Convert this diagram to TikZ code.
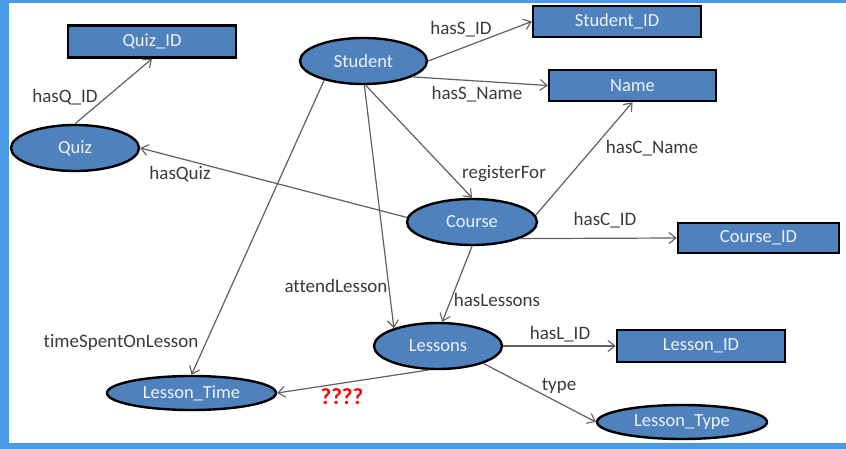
\documentclass[tikz,border=0pt]{standalone}
\usepackage{fontspec}
\setmainfont{Carlito}[Ligatures=NoCommon]
\usetikzlibrary{shapes.geometric,arrows.meta}
\definecolor{frameblue}{HTML}{4A9AE6}
\definecolor{nodeblue}{HTML}{4F81BD}
\definecolor{nodetext}{HTML}{EEF2F8}
\definecolor{labeltext}{HTML}{3A3A3A}
\definecolor{edgegray}{HTML}{606060}
\tikzset{
  ent/.style={draw=black, line width=2.4pt, fill=nodeblue, text=nodetext, inner sep=0pt,
    font=\fontsize{18.5}{20}\selectfont},
  rbox/.style={ent, rectangle},
  oval/.style={ent, ellipse},
  lbl/.style={text=labeltext, inner sep=0pt, font=\fontsize{19}{21}\selectfont},
  rel/.style={draw=edgegray, line width=1.2pt, -{Straight Barb[length=7pt,width=11pt,line width=1.1pt]}}
}
\begin{document}
\begin{tikzpicture}[x=1pt,y=-1pt]
\useasboundingbox (0,0) rectangle (846,449);
\fill[frameblue] (0,0) rectangle (846,449);
\fill[white] (9,3) rectangle (846,443);

% entities
\node[rbox, minimum width=168pt, minimum height=32pt] (quizid) at (152,41.5) {Quiz\_ID};
\node[rbox, minimum width=168pt, minimum height=31pt] (sid) at (617,21.5) {Student\_ID};
\node[rbox, minimum width=167pt, minimum height=31pt] (name) at (632.5,85.5) {Name};
\node[rbox, minimum width=161pt, minimum height=30pt] (cid) at (758.5,238) {Course\_ID};
\node[rbox, minimum width=168pt, minimum height=32pt] (lid) at (701,346) {Lesson\_ID};

\node[oval, minimum width=127pt, minimum height=46pt] (student) at (363.5,61) {Student};
\node[oval, minimum width=128pt, minimum height=46pt] (quiz) at (75,148) {Quiz};
\node[oval, minimum width=130pt, minimum height=46pt] (course) at (472,222) {Course};
\node[oval, minimum width=128pt, minimum height=46pt] (lessons) at (438,346) {Lessons};
\node[oval, minimum width=169pt, minimum height=34pt] (ltime) at (191.5,393) {Lesson\_Time};
\node[oval, minimum width=170pt, minimum height=34pt] (ltype) at (682,422) {Lesson\_Type};

% relations
\draw[rel] (quiz.north) -- (quizid.south);
\draw[rel] (student.east) -- (sid.west);
\draw[rel] (student.-18) -- (name.west);
\draw[rel] (student.-85) -- (course.north);
\draw[rel] (course.6) -- (name.south);
\draw[rel] (course.176) -- (quiz.east);
\draw[rel] (course.-19) -- (cid.west);
\draw[rel] (course.south) -- (lessons.80);
\draw[rel] (student.-88) -- (lessons.158);
\draw[rel] (student.-154) -- (ltime.north);
\draw[rel] (lessons.-111) -- (ltime.east);
\draw[rel] (lessons.east) -- (lid.west);
\draw[rel] (lessons.-21) -- (ltype.west);

% labels
\node[lbl] (l1) at (65,97) {hasQ\_ID};
\node[lbl] (l2) at (180,174) {hasQuiz};
\node[lbl] (l3) at (461,29) {hasS\_ID};
\node[lbl] (l4) at (477,94) {hasS\_Name};
\node[lbl] (l5) at (652,148) {hasC\_Name};
\node[lbl] (l6) at (504,174) {registerFor};
\node[lbl] (l7) at (605,220) {hasC\_ID};
\node[lbl] (l8) at (336,286) {attendLesson};
\node[lbl] (l9) at (121,342) {timeSpentOnLesson};
\node[lbl] (l10) at (497,300) {hasLessons};
\node[lbl] (l11) at (560,334) {hasL\_ID};
\node[lbl] (l12) at (559,386) {type};
\node[lbl, text=red, font=\fontsize{23}{25}\selectfont\bfseries] (l13) at (342,397) {????};
\end{tikzpicture}
\end{document}
